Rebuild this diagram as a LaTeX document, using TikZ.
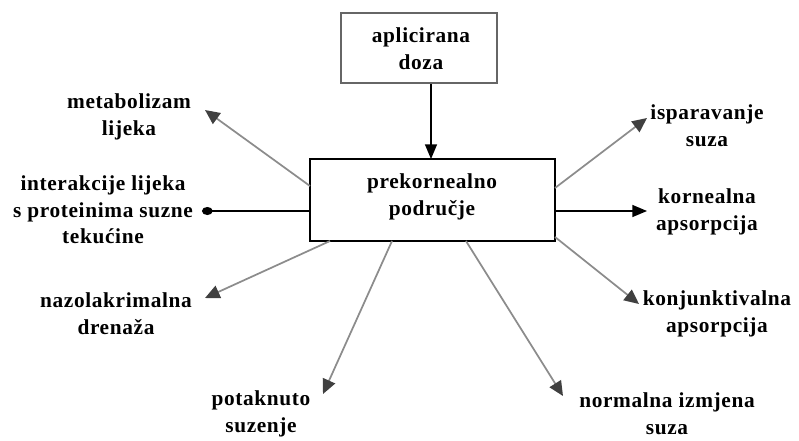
\documentclass[tikz,border=0pt]{standalone}
\usepackage{fontspec}
\setmainfont{Liberation Serif}[LetterSpace=3]
\usetikzlibrary{arrows.meta}
\begin{document}
\begin{tikzpicture}[x=0.75pt,y=-0.75pt,
  lbl/.style={font=\bfseries\fontsize{16}{20}\selectfont,align=center,inner sep=0pt},
  grayarrow/.style={draw=black!45,line width=1.3pt,-{Triangle[length=11pt,width=10pt,color=black!75]}},
  blackarrow/.style={draw=black,line width=1pt,-{Triangle[length=11pt,width=9pt]}},
  blobarrow/.style={draw=black,line width=1pt,-{Ellipse[length=8pt,width=6pt]}}]
\useasboundingbox (0,0) rectangle (799,440);
% boxes
\draw[draw=black!60,line width=1.6pt] (341,13) rectangle (497,83);
\node[lbl] (dose) at (421,49) {aplicirana\\doza};
\coordinate (topb) at (431,84);
\draw[black,line width=0.9pt] (310,159) rectangle (555,241);
\node[lbl] (mid) at (432,197) {prekornealno\\područje};
% labels
\node[lbl] (met) at (129,117) {metabolizam\\lijeka};
\node[lbl] (int) at (103,210) {interakcije lijeka\\s proteinima suzne\\tekućine};
\node[lbl] (naz) at (116,314) {nazolakrimalna\\drenaža};
\node[lbl] (pot) at (261,414) {potaknuto\\suzenje};
\node[lbl] (nor) at (667,414) {normalna izmjena\\suza};
\node[lbl] (kon) at (717,314) {konjunktivalna\\apsorpcija};
\node[lbl] (kor) at (707,212) {kornealna\\apsorpcija};
\node[lbl] (isp) at (707,126) {isparavanje\\suza};
% connector ends
\coordinate (midtop) at (431,159);
\coordinate (s1) at (310,186);
\coordinate (e1) at (205,110);
\coordinate (s2) at (310,211);
\coordinate (e2) at (202,211);
\coordinate (s3) at (330,241);
\coordinate (e3) at (205,298);
\coordinate (s4) at (392,241);
\coordinate (e4) at (323,394);
\coordinate (s5) at (466,241);
\coordinate (e5) at (563,396);
\coordinate (s6) at (555,237);
\coordinate (e6) at (639,304);
\coordinate (s7) at (555,211);
\coordinate (e7) at (647,211);
\coordinate (s8) at (555,188);
\coordinate (e8) at (647,118);
% connectors
\draw[blackarrow] (topb) -- (midtop);
\draw[grayarrow] (s1) -- (e1);
\draw[blobarrow] (s2) -- (e2);
\draw[grayarrow] (s3) -- (e3);
\draw[grayarrow] (s4) -- (e4);
\draw[grayarrow] (s5) -- (e5);
\draw[grayarrow] (s6) -- (e6);
\draw[blackarrow] (s7) -- (e7);
\draw[grayarrow] (s8) -- (e8);
\end{tikzpicture}
\end{document}
